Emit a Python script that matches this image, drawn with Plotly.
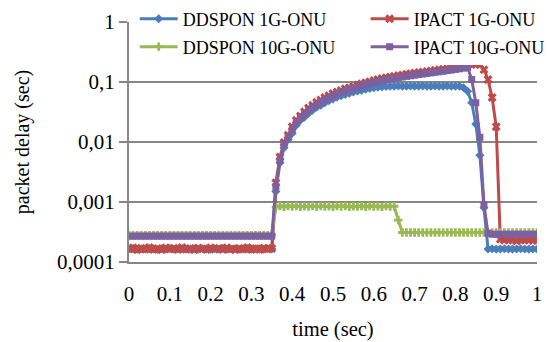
import numpy as np
import plotly.graph_objects as go

# sampling instants (sec)
time = np.round(np.linspace(0.0, 1.0, 101), 2)

# DDSPON 1G-ONU packet delay (sec)
ddspon_1g = [
    0.000165, 0.000168, 0.000163, 0.000166, 0.000164, 0.000167, 0.000165, 0.000163, 0.000166, 0.000165,
    0.000167, 0.000164, 0.000165, 0.000166, 0.000163, 0.000165, 0.000167, 0.000164, 0.000166, 0.000165,
    0.000163, 0.000166, 0.000165, 0.000167, 0.000164, 0.000165, 0.000166, 0.000163, 0.000165, 0.000167,
    0.000164, 0.000166, 0.000165, 0.000163, 0.000166, 0.000165,
    0.0015, 0.0045, 0.008, 0.011, 0.014, 0.019, 0.023, 0.026, 0.030, 0.034,
    0.038, 0.041, 0.045, 0.049, 0.052, 0.056, 0.059, 0.062, 0.065, 0.068,
    0.071, 0.073, 0.076, 0.078, 0.080, 0.082, 0.083, 0.084, 0.085, 0.085,
    0.086, 0.085, 0.085, 0.086, 0.085, 0.085, 0.086, 0.085, 0.085, 0.086,
    0.085, 0.085, 0.086, 0.085, 0.085, 0.085, 0.080, 0.070, 0.045, 0.020,
    0.006, 0.0008,
    0.000165, 0.000166, 0.000164, 0.000165, 0.000166, 0.000165, 0.000164, 0.000165, 0.000166, 0.000165,
    0.000164, 0.000165, 0.000165,
]

# IPACT 1G-ONU packet delay (sec)
ipact_1g = [
    0.000165, 0.000172, 0.000160, 0.000170, 0.000163, 0.000175, 0.000162, 0.000168, 0.000160, 0.000172,
    0.000165, 0.000170, 0.000161, 0.000174, 0.000163, 0.000168, 0.000160, 0.000171, 0.000166, 0.000162,
    0.000173, 0.000164, 0.000169, 0.000161, 0.000172, 0.000165, 0.000160, 0.000170, 0.000163, 0.000174,
    0.000162, 0.000168, 0.000161, 0.000171, 0.000165, 0.000168,
    0.0021, 0.0056, 0.0098, 0.013, 0.018, 0.023, 0.027, 0.032, 0.037, 0.041,
    0.046, 0.050, 0.055, 0.059, 0.064, 0.068, 0.072, 0.077, 0.080, 0.084,
    0.089, 0.093, 0.097, 0.101, 0.106, 0.110, 0.114, 0.118, 0.121, 0.124,
    0.128, 0.131, 0.134, 0.137, 0.141, 0.144, 0.147, 0.150, 0.153, 0.157,
    0.160, 0.163, 0.167, 0.171, 0.175, 0.180, 0.185, 0.190, 0.195, 0.198,
    0.196, 0.160, 0.110, 0.055, 0.018,
    0.00024, 0.00023, 0.000235, 0.00023, 0.000225, 0.00023, 0.000235, 0.00023, 0.000228, 0.00023,
]

# DDSPON 10G-ONU packet delay (sec)
ddspon_10g = [
    0.00028, 0.00028, 0.00028, 0.00028, 0.00028, 0.00028, 0.00028, 0.00028, 0.00028, 0.00028,
    0.00028, 0.00028, 0.00028, 0.00028, 0.00028, 0.00028, 0.00028, 0.00028, 0.00028, 0.00028,
    0.00028, 0.00028, 0.00028, 0.00028, 0.00028, 0.00028, 0.00028, 0.00028, 0.00028, 0.00028,
    0.00028, 0.00028, 0.00028, 0.00028, 0.00028, 0.00028,
    0.00082, 0.00086, 0.00083, 0.00086, 0.00084, 0.00086, 0.00083, 0.00085, 0.00084, 0.00086,
    0.00083, 0.00086, 0.00084, 0.00085, 0.00083, 0.00086, 0.00084, 0.00086, 0.00083, 0.00085,
    0.00084, 0.00086, 0.00083, 0.00086, 0.00084, 0.00085, 0.00083, 0.00086, 0.00084, 0.00085,
    0.0005,
    0.00031, 0.00031, 0.00031, 0.00031, 0.00031, 0.00031, 0.00031, 0.00031, 0.00031, 0.00031,
    0.00031, 0.00031, 0.00031, 0.00031, 0.00031, 0.00031, 0.00031, 0.00031, 0.00031, 0.00031,
    0.00031, 0.00031, 0.00031, 0.00031, 0.00031, 0.00031, 0.00031, 0.00031, 0.00031, 0.00031,
    0.00031, 0.00031, 0.00031, 0.00031,
]

# IPACT 10G-ONU packet delay (sec)
ipact_10g = [
    0.00027, 0.00027, 0.00027, 0.00027, 0.00027, 0.00027, 0.00027, 0.00027, 0.00027, 0.00027,
    0.00027, 0.00027, 0.00027, 0.00027, 0.00027, 0.00027, 0.00027, 0.00027, 0.00027, 0.00027,
    0.00027, 0.00027, 0.00027, 0.00027, 0.00027, 0.00027, 0.00027, 0.00027, 0.00027, 0.00027,
    0.00027, 0.00027, 0.00027, 0.00027, 0.00027, 0.00027,
    0.0018, 0.005, 0.009, 0.012, 0.016, 0.021, 0.025, 0.029, 0.034, 0.038,
    0.042, 0.046, 0.051, 0.055, 0.059, 0.063, 0.067, 0.071, 0.074, 0.078,
    0.082, 0.086, 0.090, 0.094, 0.098, 0.102, 0.106, 0.109, 0.112, 0.115,
    0.118, 0.121, 0.124, 0.127, 0.130, 0.133, 0.136, 0.139, 0.142, 0.145,
    0.148, 0.151, 0.155, 0.158, 0.162, 0.166, 0.170, 0.175, 0.110, 0.045,
    0.012, 0.0009, 0.0003,
    0.00029, 0.00029, 0.00029, 0.00029, 0.00029, 0.00029, 0.00029, 0.00029, 0.00029, 0.00029,
    0.00029, 0.00029,
]

x_ticks = [0, 0.1, 0.2, 0.3, 0.4, 0.5, 0.6, 0.7, 0.8, 0.9, 1]
x_tick_text = ["0", "0.1", "0.2", "0.3", "0.4", "0.5", "0.6", "0.7", "0.8", "0.9", "1"]
y_ticks = [0.0001, 0.001, 0.01, 0.1, 1]
y_tick_text = ["0,0001", "0,001", "0,01", "0,1", "1"]

SERIF = "Liberation Serif"
GRID = "#868686"

# name, values, colour, marker, marker size, legend id, legend position (paper x, y)
series = [
    ("DDSPON 1G-ONU", ddspon_1g, "#4A7EBB", "diamond", 7, "legend", (0.014, 1.0125)),
    ("IPACT 1G-ONU", ipact_1g, "#BE4B48", "x", 8, "legend2", (0.580, 1.0125)),
    ("DDSPON 10G-ONU", ddspon_10g, "#98B954", "cross", 7, "legend3", (0.014, 0.896)),
    ("IPACT 10G-ONU", ipact_10g, "#7D60A0", "square", 7, "legend4", (0.580, 0.896)),
]

fig = go.Figure()
legends = {}
for name, vals, color, symbol, msize, leg, (lx, ly) in series:
    fig.add_trace(go.Scatter(
        x=time, y=vals, name=name, mode="lines+markers",
        line=dict(color=color, width=3),
        marker=dict(symbol=symbol, size=msize, color=color, line=dict(width=0)),
        legend=leg,
    ))
    legends[leg] = dict(
        x=lx, y=ly, xanchor="left", yanchor="middle",
        bgcolor="white", borderwidth=0, itemwidth=38,
        font=dict(family=SERIF, size=18, color="black"),
        itemclick=False, itemdoubleclick=False,
    )

fig.update_layout(
    width=548, height=342,
    margin=dict(l=129, r=11, t=22, b=80, autoexpand=False),
    paper_bgcolor="white", plot_bgcolor="white",
    font=dict(family=SERIF, size=20, color="black"),
    showlegend=True,
    **legends,
    xaxis=dict(
        range=[0, 1], tickvals=x_ticks, ticktext=x_tick_text,
        showgrid=False, zeroline=False,
        showline=True, linecolor=GRID, linewidth=2,
        ticks="", ticklabelstandoff=12,
        tickfont=dict(family=SERIF, size=21, color="black"),
        title=dict(text="time (sec)", font=dict(family=SERIF, size=20.5, color="black"), standoff=16),
    ),
    yaxis=dict(
        type="log", range=[-4, 0], tickvals=y_ticks, ticktext=y_tick_text,
        showgrid=True, gridcolor=GRID, gridwidth=2,
        zeroline=False, showline=True, linecolor=GRID, linewidth=2,
        ticks="outside", ticklen=8, tickwidth=2, tickcolor=GRID,
        tickfont=dict(family=SERIF, size=21, color="black"),
        title=dict(text="packet delay (sec)", font=dict(family=SERIF, size=20, color="black"), standoff=22),
    ),
    # legend area hides the top gridline
    shapes=[dict(type="rect", xref="paper", yref="paper", x0=0.01, x1=1.0, y0=0.985, y1=1.015,
                 fillcolor="white", line=dict(width=0), layer="between")],
)

fig.write_html("out.html")
